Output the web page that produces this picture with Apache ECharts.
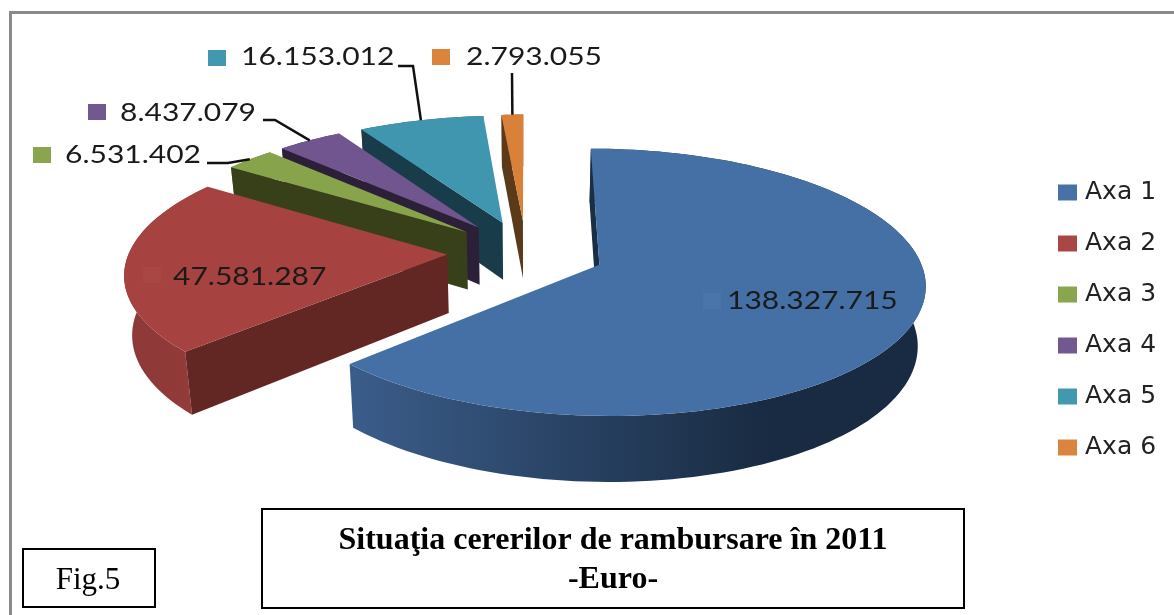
<!DOCTYPE html>
<html><head><meta charset="utf-8">
<style>html,body{margin:0;padding:0;background:#fff}#c{width:1174px;height:615px}</style>
<script src="https://cdn.jsdelivr.net/npm/echarts@6/dist/echarts.min.js"></script>
</head><body><div id="c"></div>
<script>
// ---- data ----
var categories = ['Axa 1','Axa 2','Axa 3','Axa 4','Axa 5','Axa 6'];
var values = [138327715, 47581287, 6531402, 8437079, 16153012, 2793055];
var valueLabels = ['138.327.715','47.581.287','6.531.402','8.437.079','16.153.012','2.793.055'];
var chartTitle = 'Situaţia cererilor de rambursare în 2011\n-Euro-';
var figLabel = 'Fig.5';

// ---- style ----
var topColors  = ['#4570A6','#A6423F','#87A44B','#70558F','#4096AE','#D98138'];
var legendColors = ['#4672A8','#AA4643','#89A54E','#71588F','#4198AF','#DB843D'];
var cutColors  = ['#1A2E46','#622623','#384019','#2C2039','#193C4A','#5A3A18'];
var wallColors = [['#3B5D8A','#192B42'],['#8C3937','#953C3A'],['#5E7234','#5E7234'],['#4E3B64','#4E3B64'],['#2D6979','#2D6979'],['#98592A','#98592A']];
// label layout: text left/centre, key square, leader start polyline
var labelLayout = [
  {x:727,y:301,key:[703,293],keyFill:'#4A75AB'},
  {x:173,y:277,key:[143,267],keyFill:'#A94744'},
  {x:65,y:155,key:[33,147],line:[[207,163],[228,163]]},
  {x:120,y:113,key:[88,104],line:[[263,120],[275,120]]},
  {x:241,y:57,key:[208,50],line:[[398,66],[413,66]]},
  {x:466,y:57,key:[432,49],line:[[512,73]]}
];
var P = {cx:526, cy:252, a:318, b:128, k:0.13, explode:0.248, depthBase:12.7, depthScale:45.7, shrink:0.98};

// ---- geometry from values ----
var total = values.reduce(function(s,v){return s+v;},0);
var slices = [], acc = 0;
values.forEach(function(v){
  var s = acc/total*Math.PI*2, e = (acc+v)/total*Math.PI*2;
  slices.push({s:s,e:e,m:(s+e)/2}); acc += v;
});
function project(i, r, th, lower){
  var m = slices[i].m;
  var X = P.explode*Math.sin(m) + r*Math.sin(th);
  var Y = -P.explode*Math.cos(m) - r*Math.cos(th);
  var sc = 1/(1-P.k*Y);
  var x = P.cx + P.a*X*sc, y = P.cy + P.b*Y*sc;
  if(lower){ x = P.cx + (x-P.cx)*P.shrink; y += P.depthBase + P.depthScale*sc; }
  return [x,y];
}
function arc(i, lower){
  var pts=[], n=Math.max(6,Math.ceil((slices[i].e-slices[i].s)/0.03));
  for(var j=0;j<=n;j++){ pts.push(project(i,1,slices[i].s+(slices[i].e-slices[i].s)*j/n,lower)); }
  return pts;
}
function renderSlice(i){
  return function(params, api){
    api.value(0);
    var t=arc(i,false), b=arc(i,true);
    var a0=project(i,0,0,false), a1=project(i,0,0,true);
    var kids=[];
    function poly(pts,fill){ kids.push({type:'polygon',shape:{points:pts},style:{fill:fill,stroke:null}}); }
    poly(t.concat(b.slice().reverse()), new echarts.graphic.LinearGradient(0,0,1,0,[{offset:0,color:wallColors[i][0]},{offset:i===0?0.72:1,color:wallColors[i][1]},{offset:1,color:wallColors[i][1]}]));
    poly([a0,t[0],b[0],a1],cutColors[i]);
    poly([a0].concat(t),topColors[i]);
    var L=labelLayout[i];
    if(L.line){
      var end=project(i,1,slices[i].m,false);
      kids.push({type:'polyline',shape:{points:L.line.concat([end])},style:{stroke:'#111',lineWidth:2.5,fill:null}});
    }
    kids.push({type:'rect',shape:{x:L.key[0],y:L.key[1],width:18,height:16},style:{fill:L.keyFill||legendColors[i]}});
    kids.push({type:'text',x:L.x,y:L.y,scaleX:1.2,style:{text:valueLabels[i],x:0,y:0,fill:'#1a1a1a',font:'25px Lato',textAlign:'left',textVerticalAlign:'middle'}});
    return {type:'group',children:kids};
  };
}
var drawOrder=[5,4,3,2,1,0];
var series=drawOrder.map(function(i){
  return {type:'custom',name:categories[i],coordinateSystem:'none',renderItem:renderSlice(i),data:[[values[i]]],
    itemStyle:{color:legendColors[i]},animation:false,silent:true,clip:false};
});
var chart=echarts.init(document.getElementById('c'),null,{renderer:'canvas'});
chart.setOption({
  backgroundColor:'#fff',animation:false,
  title:{text:chartTitle,left:608,top:516,textAlign:'center',textStyle:{fontFamily:'Liberation Serif',fontWeight:'bold',fontSize:32,lineHeight:39,color:'#000'}},
  legend:{orient:'vertical',left:1053,top:175,data:categories,icon:'rect',itemWidth:19,itemHeight:16,itemGap:26,
    textStyle:{fontFamily:'DejaVu Sans',fontSize:25,color:'#222',padding:[0,0,0,3]},selectedMode:false},
  series:series,
  graphic:[
    {type:'polyline',silent:true,shape:{points:[[10.5,615],[10.5,12.5],[1174,12.5]]},style:{stroke:'#8a8a8a',lineWidth:3,fill:null}},
    {type:'rect',silent:true,shape:{x:262,y:509,width:702,height:99},style:{fill:'none',stroke:'#000',lineWidth:2}},
    {type:'rect',silent:true,shape:{x:23,y:549,width:132,height:58},style:{fill:'none',stroke:'#000',lineWidth:2}},
    {type:'text',silent:true,x:88,y:581,style:{text:figLabel,fill:'#000',font:'31px "Liberation Serif"',textAlign:'center',textVerticalAlign:'middle'}}
  ]
});
</script></body></html>
